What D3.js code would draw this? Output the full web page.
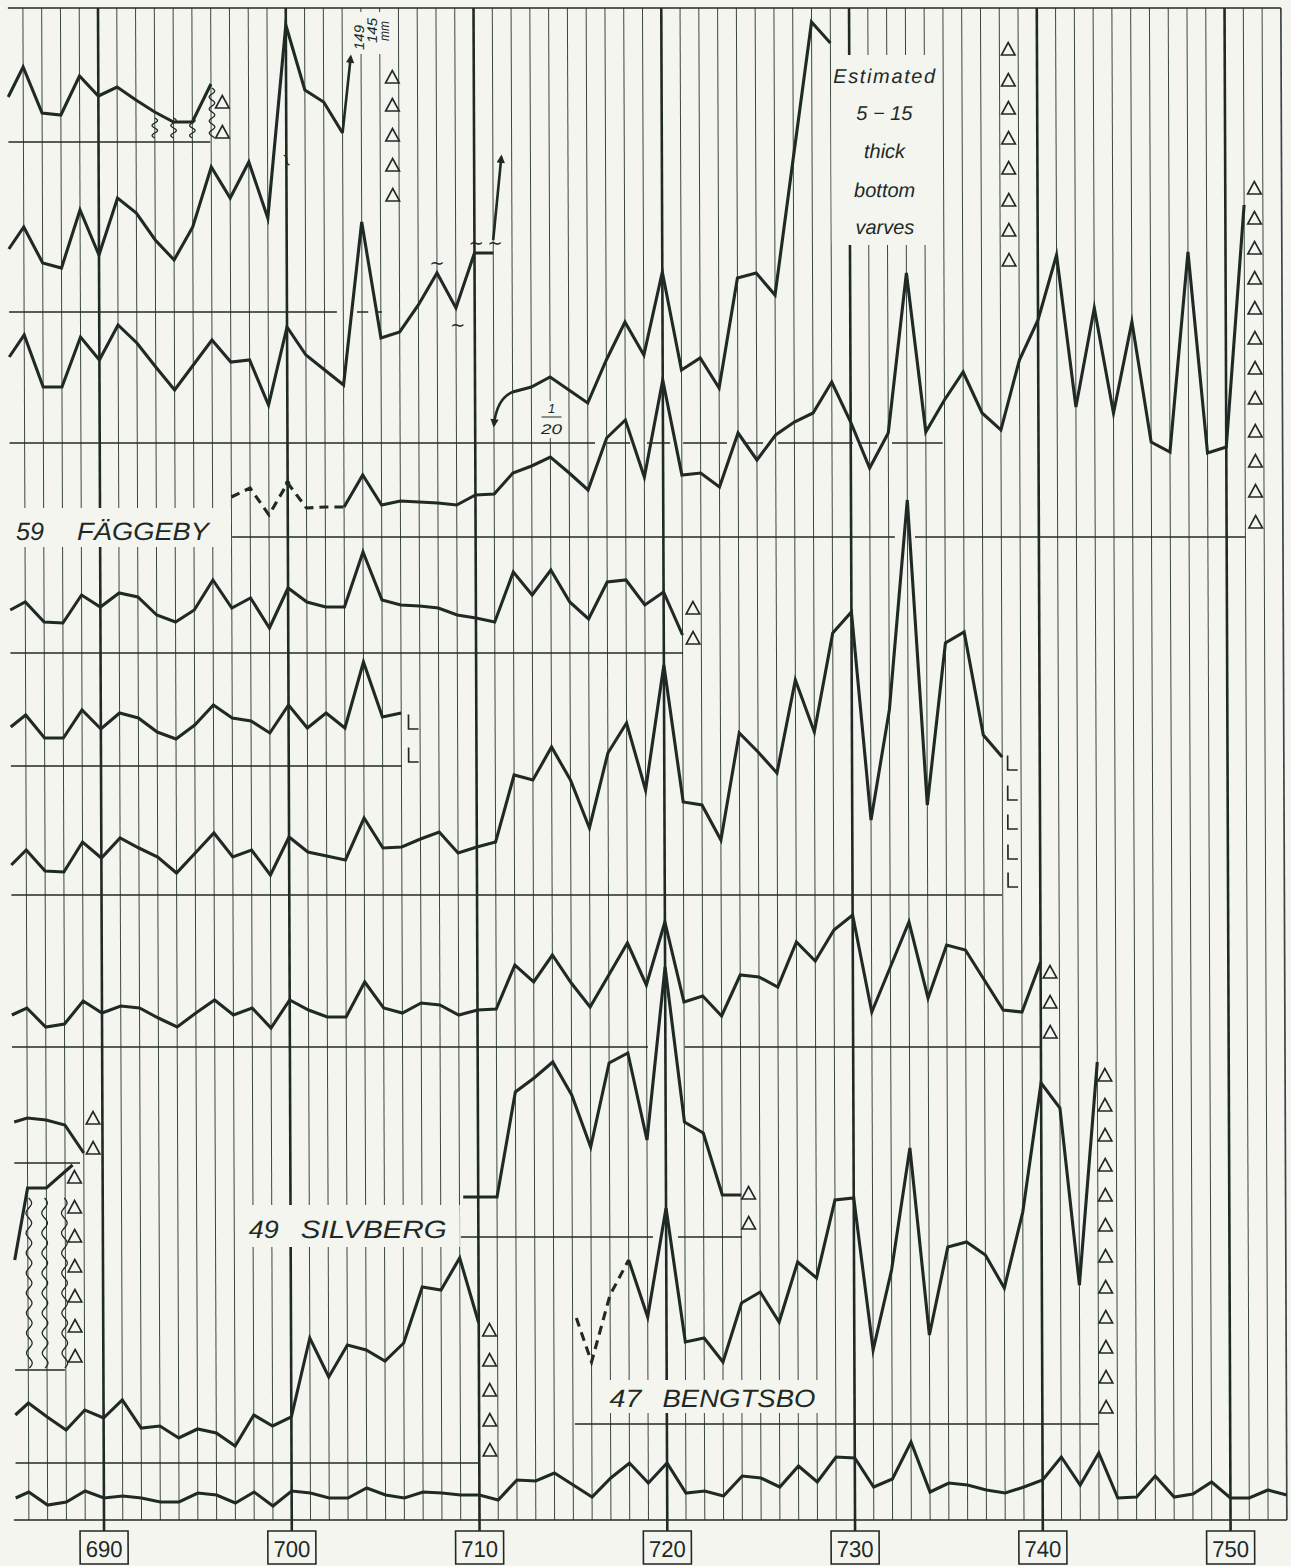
<!DOCTYPE html>
<html><head><meta charset="utf-8">
<script src="https://cdn.jsdelivr.net/npm/d3@7"></script>
<style>html,body{margin:0;padding:0;background:#f5f5f0;} svg{display:block;}</style>
</head><body><svg id="chart" width="1291" height="1566"></svg>
<script>
// ---------------- DATA (varve thickness; units = drawing units above each baseline) ----------------
const seq = (first, from, to) => [first].concat(d3.range(from, to + 1));

const tickYears = [690, 700, 710, 720, 730, 740, 750];

const yearsA = seq(685.2, 686, 696);
const valuesA = [45,75,29,27,66,46,55,42,30,20,20,58];

const yearsB = seq(685.2, 686, 703);
const valuesB = [63,85,49,44,102,57,114,99,72,52,85,145,114,150,94,287,222,210,179];

const yearsC = seq(685.2, 686, 711);
const valuesC = [86,108,56,56,106,83,118,100,76,53,78,103,81,83,38,116,88,73,58,221,105,111,138,170,135,190,190];

const yearsD = d3.range(712, 730);           // drawn at 1/20
const valuesD = [51,56,66,53,40,83,121,88,171,73,85,55,165,170,148,285,421,400];

const yearsF = d3.range(697, 752);           // 59 Fäggeby
const valuesF = [40,49,22,54,29,30,30,62,32,36,35,34,32,42,43,64,71,80,64,47,99,117,60,157,62,64,50,104,77,102,115,124,155,115,69,104,264,105,137,165,124,107,177,217,282,130,229,124,215,95,85,285,84,90,332];
const faggebyDashedUntil = 703;

const yearsG1 = seq(685.2, 686, 721);
const valuesG1 = [43,51,31,30,58,46,60,56,38,31,43,73,45,55,25,65,51,46,46,101,53,48,47,45,38,35,31,81,58,83,51,34,71,73,48,61,18];

const yearsG2 = seq(685.2, 686, 706);
const valuesG2 = [39,51,28,28,56,37,53,48,34,27,41,61,48,45,33,61,38,53,38,104,49,53];

const yearsG3 = seq(685.2, 686, 738);
const valuesG3 = [30,45,24,23,53,37,57,47,38,22,42,62,38,45,20,58,43,39,35,77,47,48,56,63,42,48,53,120,115,148,115,67,142,172,105,230,93,90,55,162,143,122,215,163,262,283,75,185,395,90,252,263,160,138];

const yearsG4 = seq(685.2, 686, 740);
const valuesG4 = [32,39,20,23,46,34,41,39,29,20,34,47,32,39,19,47,37,30,30,65,39,34,44,42,32,37,38,82,65,92,64,40,72,104,62,125,45,51,31,72,70,60,105,86,117,132,35,80,125,49,102,97,67,37,35,85];

const yearsH = seq(709.2, 710, 724);         // 49 Silvberg
const valuesH = [40,40,40,145,159,175,142,90,174,184,97,270,115,104,42,42];

const yearsIdash = [715.2, 716, 717, 718];   // 47 Bengtsbo (uncertain part)
const valuesIdash = [106, 62, 129, 164];
const yearsI = d3.range(718, 744);
const valuesI = [164,107,216,82,86,62,121,132,102,162,146,224,226,74,154,276,89,177,182,169,136,212,341,316,139,362];

const yearsJ = [685.3, 686, 687, 688, 689];
const valuesJ = [41, 45, 43, 38, 10];

const yearsK = [685.3, 686, 687, 688.4];
const valuesK = [110, 182, 182, 205];

const yearsL = seq(685.3, 686, 710);
const valuesL = [48,60,46,33,53,45,63,35,37,25,34,30,17,48,37,46,125,86,118,113,102,120,176,173,205,140];

const yearsM = seq(685.3, 686, 753);
const valuesM = [22,28,15,18,29,22,24,22,18,18,27,25,17,28,14,29,27,22,22,32,25,22,28,27,25,25,20,40,39,47,35,23,42,57,37,57,27,29,24,44,42,33,54,38,63,62,33,41,78,28,37,35,30,27,33,40,63,35,67,22,23,44,23,26,38,22,22,30,25];

// ---------------- LAYOUT ----------------
const W = 1291, H = 1566;
const BG = "#f5f5f0", INK = "#202a25", GRID = "#3b4640";
const TOP = 8, BOTTOM = 1520;
const base = {A:142, B:312, C:443, F:537, G1:653, G2:766, G3:895, G4:1047, J:1163, H:1237, K:1370, I:1424, L:1463, M:1520};

const x = d3.scaleLinear().domain([690, 750]).range([101.06, 1227.6]);
const yScales = {};
Object.keys(base).forEach(k => {
  yScales[k] = d3.scaleLinear().domain([0, 400]).range([base[k], base[k] - 400]);
});

const svg = d3.select("#chart");
svg.append("rect").attr("width", W).attr("height", H).attr("fill", BG);
const defs = svg.append("defs");
defs.append("marker").attr("id", "arrow").attr("viewBox", "0 0 10 10")
  .attr("refX", 7).attr("refY", 5).attr("markerWidth", 3.6).attr("markerHeight", 3.2)
  .attr("orient", "auto").append("path").attr("d", "M0,0 L10,5 L0,10 Z").attr("fill", INK);

// the original sheet is slightly skewed
const g = svg.append("g").attr("transform", "translate(0,780) skewX(0.2275) translate(0,-780)");

// ---- vertical year grid ----
const gridYears = d3.range(686, 754);
g.append("g").selectAll("line").data(gridYears).join("line")
  .attr("x1", d => x(d)).attr("x2", d => x(d))
  .attr("y1", TOP).attr("y2", d => d % 10 === 0 ? 1531 : BOTTOM)
  .attr("stroke", d => d % 10 === 0 ? INK : GRID)
  .attr("stroke-width", d => d % 10 === 0 ? 2.6 : (d === 753 ? 1.7 : 1));

// top border
g.append("line").attr("x1", x(685.2)).attr("x2", x(753)).attr("y1", TOP).attr("y2", TOP)
  .attr("stroke", INK).attr("stroke-width", 1.6);

// ---- label backgrounds (interrupt the grid) ----
const boxes = [
  [10, 508, 222, 39],      // 59 FÄGGEBY
  [834, 55, 106, 190],     // Estimated ...
  [541, 401, 25, 37],      // 1/20
  [355, 12, 42, 42],       // 149 / 145 mm
  [240, 1205, 218, 42],    // 49 SILVBERG
  [599, 1380, 226, 33]     // 47 BENGTSBO
];
g.append("g").selectAll("rect").data(boxes).join("rect")
  .attr("x", d => d[0]).attr("y", d => d[1]).attr("width", d => d[2]).attr("height", d => d[3])
  .attr("fill", BG);

// ---- baselines (with breaks where a curve crosses) ----
const baseSegs = [
  ["A", [[685.2, 695.95]]],
  ["B", [[685.2, 702.66], [703.73, 704.33], [704.8, 705.06]]],
  ["C", [[685.2, 716.38], [717.02, 718.25], [719.15, 720.38], [721.07, 723.41], [724.26, 725.33], [726.13, 730.12], [730.49, 731.4], [732.2, 734.9]]],
  ["F", [[697.03, 732.33], [733.4, 750.99]]],
  ["G1", [[685.2, 721.02]]],
  ["G2", [[685.2, 706.03]]],
  ["G3", [[685.2, 737.96]]],
  ["G4", [[685.2, 719.07], [721.04, 739.95]]],
  ["J", [[685.3, 688.8]]],
  ["H", [[709.07, 719.3], [720.63, 724.04]]],
  ["K", [[685.3, 687.95]]],
  ["I", [[715.1, 743.0]]],
  ["L", [[685.3, 709.93]]],
  ["M", [[685.2, 753]]]
];
const segData = [];
baseSegs.forEach(([p, segs]) => segs.forEach(s => segData.push({p, s})));
g.append("g").selectAll("line").data(segData).join("line")
  .attr("x1", d => x(d.s[0])).attr("x2", d => x(d.s[1]))
  .attr("y1", d => base[d.p]).attr("y2", d => base[d.p])
  .attr("stroke", INK).attr("stroke-width", d => d.p === "M" ? 1.6 : 1.3);

// ---- curves ----
const curves = g.append("g").attr("fill", "none").attr("stroke", INK)
  .attr("stroke-width", 3.1).attr("stroke-linejoin", "miter").attr("stroke-miterlimit", 6);
function drawSeries(panel, years, values, dashed) {
  const pts = years.map((yr, i) => [yr, values[i]]);
  const line = d3.line().x(d => x(d[0])).y(d => yScales[panel](d[1]));
  const p = curves.append("path").attr("d", line(pts));
  if (dashed) p.attr("stroke-dasharray", "9,6");
  return p;
}
drawSeries("A", yearsA, valuesA);
drawSeries("B", yearsB, valuesB);
drawSeries("C", yearsC, valuesC);
drawSeries("C", yearsD, valuesD);
const fDashIdx = yearsF.indexOf(faggebyDashedUntil);
drawSeries("F", yearsF.slice(0, fDashIdx + 1), valuesF.slice(0, fDashIdx + 1), true);
drawSeries("F", yearsF.slice(fDashIdx), valuesF.slice(fDashIdx));
drawSeries("G1", yearsG1, valuesG1);
drawSeries("G2", yearsG2, valuesG2);
drawSeries("G3", yearsG3, valuesG3);
drawSeries("G4", yearsG4, valuesG4);
drawSeries("H", yearsH, valuesH);
drawSeries("I", yearsIdash, valuesIdash, true);
drawSeries("I", yearsI, valuesI);
drawSeries("J", yearsJ, valuesJ);
drawSeries("K", yearsK, valuesK);
drawSeries("L", yearsL, valuesL);
drawSeries("M", yearsM, valuesM);

// arrows (values beyond the sheet)
const arrows = [
  {panel: "B", from: [703, 179], to: [703.45, 255]},
  {panel: "C", from: [711, 203], to: [711.45, 286]}
];
arrows.forEach(a => {
  curves.append("line").attr("x1", x(a.from[0])).attr("y1", yScales[a.panel](a.from[1]))
    .attr("x2", x(a.to[0])).attr("y2", yScales[a.panel](a.to[1])).attr("stroke-width", 2.6)
    .attr("marker-end", "url(#arrow)");
});
{
  const ys = yScales.C;
  const p = d3.path();
  p.moveTo(x(712), ys(51));
  p.quadraticCurveTo(x(711.15), ys(44), x(711.0), ys(18));
  curves.append("path").attr("d", p.toString()).attr("stroke-width", 2.6).attr("marker-end", "url(#arrow)");
}
// dot on the dashed Fäggeby peak
g.append("circle").attr("cx", x(700)).attr("cy", yScales.F(54)).attr("r", 2.6).attr("fill", INK);

// ---- triangle columns (Δ) ----
const triCols = [
  {p: "A", yr: 696.6, v: [40, 10]},
  {p: "B", yr: 705.66, v: [235, 207, 177, 147, 117]},
  {p: "C", yr: 738.47, v: [394, 363, 335, 305, 275, 243, 213, 183]},
  {p: "F", yr: 751.55, v: [349, 319, 289, 259, 229, 199, 169, 139, 106, 76, 46, 15]},
  {p: "G1", yr: 721.56, v: [45, 15]},
  {p: "G4", yr: 740.5, v: [75, 45, 15]},
  {p: "H", yr: 724.4, v: [44, 14]},
  {p: "I", yr: 743.4, v: [349, 319, 289, 259, 229, 199, 168, 137, 107, 77, 47, 17]},
  {p: "J", yr: 689.5, v: [45, 15]},
  {p: "K", yr: 688.5, v: [193, 163, 134, 104, 74, 44, 14]},
  {p: "L", yr: 710.57, v: [133, 103, 73, 43, 13]}
];
const triData = [];
triCols.forEach(c => c.v.forEach(v => triData.push({p: c.p, yr: c.yr, v})));
g.append("g").selectAll("path").data(triData).join("path")
  .attr("d", d => {
    const cx = x(d.yr), cy = yScales[d.p](d.v);
    return `M${cx - 6.8},${cy + 6}L${cx + 6.8},${cy + 6}L${cx},${cy - 6.5}Z`;
  })
  .attr("fill", "none").attr("stroke", INK).attr("stroke-width", 1.6).attr("stroke-linejoin", "miter");

// ---- L columns ----
const lCols = [
  {p: "G2", yr: 706.6, v: [44, 11]},
  {p: "G3", yr: 738.5, v: [132, 102, 73, 43, 15]}
];
const lData = [];
lCols.forEach(c => c.v.forEach(v => lData.push({p: c.p, yr: c.yr, v})));
g.append("g").selectAll("path").data(lData).join("path")
  .attr("d", d => {
    const cx = x(d.yr), cy = yScales[d.p](d.v);
    return `M${cx - 4},${cy - 7.5}V${cy + 7}H${cx + 6}`;
  })
  .attr("fill", "none").attr("stroke", INK).attr("stroke-width", 1.7);

// ---- wavy vertical marks ----
const wavy = [
  {p: "A", yr: 693, v0: 4, v1: 24, wl: 10},
  {p: "A", yr: 694, v0: 4, v1: 24, wl: 10},
  {p: "A", yr: 695, v0: 4, v1: 24, wl: 10},
  {p: "A", yr: 696.05, v0: 4, v1: 54, wl: 12},
  {p: "K", yr: 686.06, v0: 2, v1: 172, wl: 20},
  {p: "K", yr: 686.9, v0: 2, v1: 172, wl: 20},
  {p: "K", yr: 687.95, v0: 2, v1: 172, wl: 20}
];
wavy.forEach(w => {
  const ys = yScales[w.p];
  const y0 = ys(w.v1), y1 = ys(w.v0);
  const cx = x(w.yr);
  const pts = d3.range(y0, y1 + 0.5, 1).map(yy => [cx + 2.8 * Math.sin(2 * Math.PI * (yy - y0) / w.wl), yy]);
  g.append("path").attr("d", d3.line()(pts)).attr("fill", "none").attr("stroke", INK).attr("stroke-width", 1.3);
});

// ---- tildes ----
const tildes = [
  {p: "C", yr: 708, v: 180, rot: 0},
  {p: "C", yr: 709.1, v: 118, rot: 0},
  {p: "C", yr: 710.1, v: 200, rot: 0},
  {p: "C", yr: 711.1, v: 200, rot: 0},
  {p: "B", yr: 700.05, v: 152, rot: 70}
];
g.append("g").selectAll("text").data(tildes).join("text")
  .attr("transform", d => `translate(${x(d.yr)},${yScales[d.p](d.v)}) rotate(${d.rot})`)
  .attr("text-anchor", "middle").attr("dy", "0.35em")
  .attr("font-family", "DejaVu Sans").attr("font-size", 18).attr("fill", INK).text("~");

// ---- text ----
const FONT = "Liberation Sans, DejaVu Sans, sans-serif";
const T = (txt, px, py, size, len, opts = {}) => {
  const t = g.append("text").attr("x", px).attr("y", py).attr("font-family", FONT)
    .attr("font-size", size).attr("font-style", opts.upright ? "normal" : "italic")
    .attr("fill", INK).attr("text-anchor", opts.anchor || "start").text(txt);
  if (len) t.attr("textLength", len).attr("lengthAdjust", opts.adjust || "spacingAndGlyphs");
  if (opts.rot) t.attr("transform", `rotate(${opts.rot},${px},${py})`);
  return t;
};
T("59", 17, 540, 25, 28);
T("FÄGGEBY", 78, 540, 25, 132);
T("49", 247, 1238, 25, 30);
T("SILVBERG", 299, 1238, 25, 146);
T("47", 607, 1407, 25, 32);
T("BENGTSBO", 660, 1407, 25, 153);

const estLines = ["Estimated", "5 \u2212 15", "thick", "bottom", "varves"];
const estY = [83, 120, 158, 197, 234];
estLines.forEach((s, i) => {
  T(s, 887, estY[i], 20, i === 0 ? 102 : null, {anchor: "middle", adjust: "spacing"});
});

T("149", 367, 50, 14, 25, {rot: -90});
T("145", 380, 43, 14, 25, {rot: -90});
T("mm", 392, 41, 14, 20, {rot: -90});

T("1", 553, 413, 13, null, {anchor: "middle"});
g.append("line").attr("x1", 543).attr("x2", 563).attr("y1", 417).attr("y2", 417).attr("stroke", INK).attr("stroke-width", 1);
T("20", 553, 434, 14, 21, {anchor: "middle"});

// ---- tick boxes ----
const ticks = g.append("g");
ticks.selectAll("rect").data(tickYears).join("rect")
  .attr("x", d => x(d) - 24).attr("y", 1531).attr("width", 48).attr("height", 33)
  .attr("fill", BG).attr("stroke", INK).attr("stroke-width", 1.6);
ticks.selectAll("text").data(tickYears).join("text")
  .attr("x", d => x(d)).attr("y", 1557).attr("text-anchor", "middle")
  .attr("font-family", FONT).attr("font-size", 23).attr("fill", INK)
  .attr("textLength", 37).attr("lengthAdjust", "spacingAndGlyphs")
  .text(d => d);
</script></body></html>
